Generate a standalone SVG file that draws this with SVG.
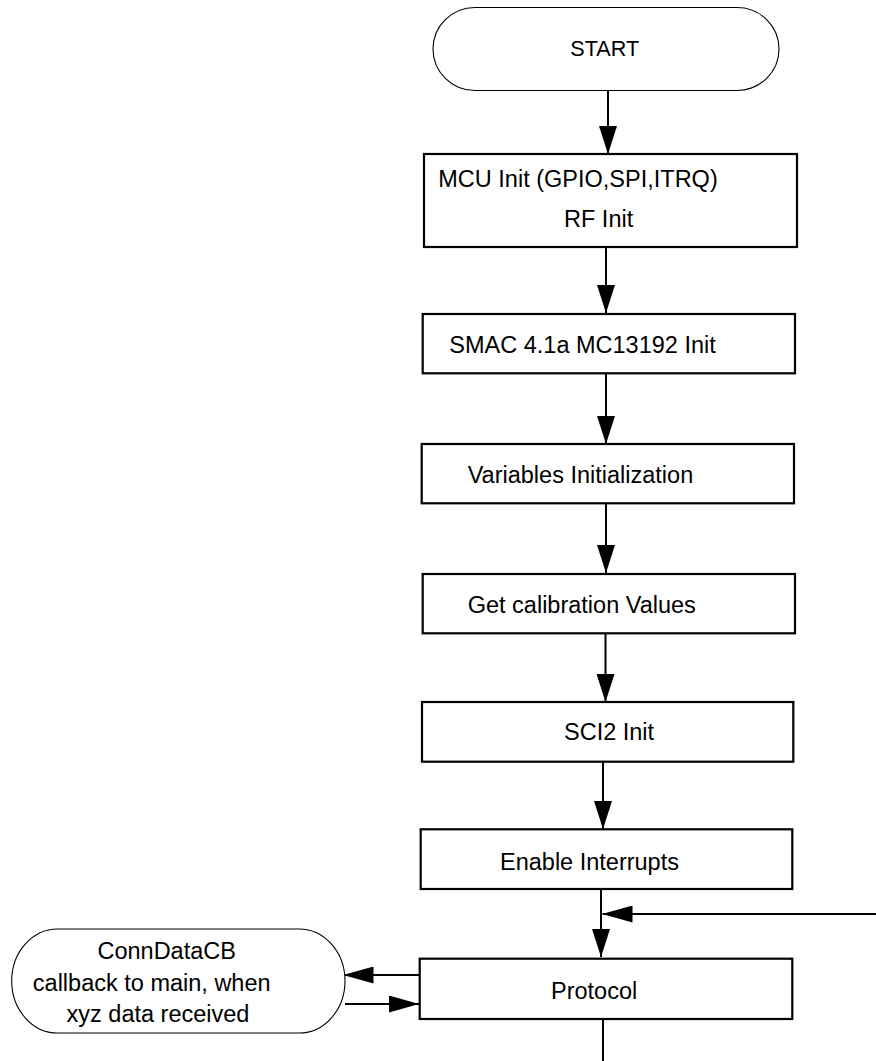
<svg xmlns="http://www.w3.org/2000/svg" width="876" height="1061" viewBox="0 0 876 1061">
<style>
  .box { fill: #fff; stroke: #000; stroke-width: 2.2; }
  .term { fill: #fff; stroke: #000; stroke-width: 1.1; }
  .lbl { font-family: "Liberation Sans", Arial, sans-serif; font-size: 23.5px; fill: #000; }
  .conn { stroke: #000; stroke-width: 2; fill: none; }
</style>
<defs>
  <marker id="ah" viewBox="0 0 28 18" markerWidth="28" markerHeight="18" refX="28" refY="9" orient="auto" markerUnits="userSpaceOnUse">
    <path d="M0,0 L28,9 L0,18 z" fill="#000"/>
  </marker>
  <marker id="ahh" viewBox="0 0 30 17" markerWidth="30" markerHeight="17" refX="30" refY="8.5" orient="auto" markerUnits="userSpaceOnUse">
    <path d="M0,0 L30,8.5 L0,17 z" fill="#000"/>
  </marker>
</defs>

<g id="connectors">
  <line class="conn" x1="608" y1="91" x2="608" y2="154" marker-end="url(#ah)"/>
  <line class="conn" x1="606" y1="247" x2="606" y2="313" marker-end="url(#ah)"/>
  <line class="conn" x1="606" y1="373" x2="606" y2="444" marker-end="url(#ah)"/>
  <line class="conn" x1="606" y1="503" x2="606" y2="573" marker-end="url(#ah)"/>
  <line class="conn" x1="605.5" y1="633" x2="605.5" y2="702" marker-end="url(#ah)"/>
  <line class="conn" x1="603" y1="762" x2="603" y2="829" marker-end="url(#ah)"/>
  <line class="conn" x1="601" y1="889" x2="601" y2="957" marker-end="url(#ah)"/>
  <line class="conn" x1="876" y1="914" x2="602.5" y2="914" marker-end="url(#ahh)"/>
  <line class="conn" x1="420" y1="975" x2="343.5" y2="975" marker-end="url(#ahh)"/>
  <line class="conn" x1="345" y1="1004" x2="419" y2="1004" marker-end="url(#ahh)"/>
  <line class="conn" x1="603" y1="1019" x2="603" y2="1061"/>
</g>

<g id="start">
  <rect class="term" x="433" y="7.5" width="346" height="83" rx="42" ry="41.5"/>
  <text class="lbl" x="604.7" y="56" text-anchor="middle" style="font-size:21.6px">START</text>
</g>

<g id="mcu-init">
  <rect class="box" x="424" y="154" width="373" height="93"/>
  <text class="lbl" x="438.3" y="187.3">MCU Init (GPIO,SPI,ITRQ)</text>
  <text class="lbl" x="564" y="227.3">RF Init</text>
</g>

<g id="smac-init">
  <rect class="box" x="422.7" y="314" width="372.3" height="59.3"/>
  <text class="lbl" x="449.3" y="353.3">SMAC 4.1a MC13192 Init</text>
</g>

<g id="variables-init">
  <rect class="box" x="421.7" y="444" width="372.3" height="59.3"/>
  <text class="lbl" x="467.7" y="482.7">Variables Initialization</text>
</g>

<g id="get-calibration">
  <rect class="box" x="422.7" y="574" width="372.3" height="59.3"/>
  <text class="lbl" x="467.7" y="613.3">Get calibration Values</text>
</g>

<g id="sci2-init">
  <rect class="box" x="422" y="702" width="371.3" height="59.7"/>
  <text class="lbl" x="564" y="740">SCI2 Init</text>
</g>

<g id="enable-interrupts">
  <rect class="box" x="420.7" y="829.3" width="371.6" height="59.7"/>
  <text class="lbl" x="500" y="870">Enable Interrupts</text>
</g>

<g id="protocol">
  <rect class="box" x="419.7" y="958.7" width="372.6" height="60.3"/>
  <text class="lbl" x="551" y="999.3">Protocol</text>
</g>

<g id="conndatacb">
  <rect class="term" x="11.7" y="929" width="333.3" height="104" rx="46" ry="52"/>
  <text class="lbl" x="166.7" y="959" text-anchor="middle">ConnDataCB</text>
  <text class="lbl" x="151.7" y="990.7" text-anchor="middle">callback to main, when</text>
  <text class="lbl" x="158" y="1021.7" text-anchor="middle">xyz data received</text>
</g>
</svg>
